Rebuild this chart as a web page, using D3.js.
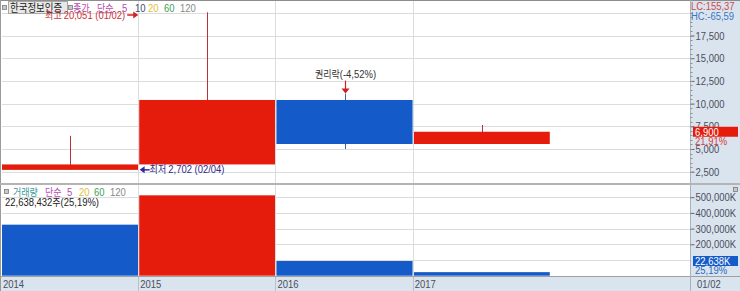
<!DOCTYPE html>
<html>
<head>
<meta charset="utf-8">
<script src="https://cdn.jsdelivr.net/npm/d3@7"></script>
<style>
  html, body { margin: 0; padding: 0; background: #fff; }
  svg { display: block; }
  text { font-family: 'Liberation Sans', 'Noto Sans CJK KR', sans-serif; }
  .ko { font-family: 'Noto Sans CJK KR', 'Liberation Sans', sans-serif; }
</style>
</head>
<body>
<svg id="chart" width="740" height="291"></svg>
<script>
// Yearly candles: 한국정보인증
const categories = ['2014', '2015', '2016', '2017'];
const openVals  = [2702, 3300, 10400, 5550];
const highVals  = [6450, 20051, 11100, 7650];
const lowVals   = [2702, 3300, 5000, 5550];
const closeVals = [3300, 10400, 5550, 6900];
// 거래량 in thousands of shares
const volumeVals = [325000, 512000, 93500, 22638];

const priceTicks = [2500, 5000, 7500, 10000, 12500, 15000, 17500, 20000];
const priceTickLabels = [2500, 5000, 7500, 10000, 12500, 15000, 17500];
const volumeTicks = [100000, 200000, 300000, 400000, 500000];
const volumeTickLabels = [200000, 300000, 400000, 500000];
const lastDateLabel = '01/02';

const RED = '#e51c0c', BLUE = '#145ac8';
const GRID = '#dcdcdc', PANEL = '#dae4ef';
const FS = 11, SX = 0.86;   // condensed look: 11px text squeezed horizontally

const W = 740, H = 291;
const plotL = 2, plotR = 690;
const priceTop = 1, priceBottom = 183;
const volTop = 185, volBottom = 276;

const svg = d3.select('#chart');

// helper for condensed text at (x, y); parts = [[string, colour, koreanFontSize], ...]
function label(parent, x, y, parts, anchor) {
  const t = parent.append('text')
    .attr('transform', `translate(${x},${y}) scale(${SX},1)`)
    .attr('font-size', FS)
    .attr('text-anchor', anchor || 'start');
  parts.forEach(([s, c, ko]) => {
    const sp = t.append('tspan').attr('fill', c).text(s);
    if (ko) sp.attr('class', 'ko').attr('font-size', ko);
  });
  return t;
}

// x: one band per year plus an empty slot on the right
const x = d3.scaleBand().domain([...categories, '_next']).range([plotL, 687]).paddingInner(0.008).paddingOuter(0);
const yP = d3.scaleLinear().domain([2500, 20000]).range([171.7, 12.8]);
const yV = d3.scaleLinear().domain([0, 500000]).range([275.7, 197.2]);

// backgrounds
svg.append('rect').attr('x', 0).attr('y', 0).attr('width', W).attr('height', H).attr('fill', '#fff');
svg.append('rect').attr('x', plotR).attr('y', 0).attr('width', W - plotR).attr('height', H).attr('fill', PANEL);
svg.append('rect').attr('x', 0).attr('y', volBottom).attr('width', W).attr('height', H - volBottom).attr('fill', PANEL);

// clip regions
const defs = svg.append('defs');
defs.append('clipPath').attr('id', 'clipP').append('rect').attr('x', plotL).attr('y', priceTop).attr('width', plotR - plotL).attr('height', priceBottom - priceTop);
defs.append('clipPath').attr('id', 'clipV').append('rect').attr('x', plotL).attr('y', volTop).attr('width', plotR - plotL).attr('height', volBottom - volTop);

// gridlines
const gP = svg.append('g').attr('clip-path', 'url(#clipP)');
gP.selectAll('line.h').data(priceTicks).join('line')
  .attr('x1', plotL).attr('x2', plotR).attr('y1', d => Math.round(yP(d)) + 0.5).attr('y2', d => Math.round(yP(d)) + 0.5)
  .attr('stroke', GRID);
const gV = svg.append('g').attr('clip-path', 'url(#clipV)');
gV.selectAll('line.h').data(volumeTicks).join('line')
  .attr('x1', plotL).attr('x2', plotR).attr('y1', d => Math.round(yV(d)) + 0.5).attr('y2', d => Math.round(yV(d)) + 0.5)
  .attr('stroke', GRID);
svg.append('g').selectAll('line').data(categories.slice(1)).join('line')
  .attr('x1', d => Math.round(x(d)) - 0.5).attr('x2', d => Math.round(x(d)) - 0.5)
  .attr('y1', priceTop).attr('y2', volBottom).attr('stroke', GRID);

// candles
const cw = x.bandwidth();
const candles = gP.selectAll('g.c').data(categories.map((c, i) => ({
  c, o: openVals[i], h: highVals[i], l: lowVals[i], cl: closeVals[i]
}))).join('g');
candles.append('line')
  .attr('x1', d => Math.round(x(d.c) + cw / 2) + 0.5).attr('x2', d => Math.round(x(d.c) + cw / 2) + 0.5)
  .attr('y1', d => yP(d.h)).attr('y2', d => yP(d.l))
  .attr('stroke', d => d.cl >= d.o ? '#b8323a' : '#3564b0');
candles.append('rect')
  .attr('x', d => x(d.c)).attr('width', cw)
  .attr('y', d => yP(Math.max(d.o, d.cl)))
  .attr('height', d => Math.max(1, Math.abs(yP(d.o) - yP(d.cl))))
  .attr('fill', d => d.cl >= d.o ? RED : BLUE);

// volume bars: red when volume rose from the previous year
gV.selectAll('rect.v').data(categories).join('rect')
  .attr('x', d => x(d)).attr('width', cw)
  .attr('y', (d, i) => yV(volumeVals[i]))
  .attr('height', (d, i) => yV(0) - yV(volumeVals[i]))
  .attr('fill', (d, i) => i > 0 && volumeVals[i] > volumeVals[i - 1] ? RED : BLUE);

// borders and panel separators
svg.append('line').attr('x1', 0).attr('x2', W).attr('y1', 0.5).attr('y2', 0.5).attr('stroke', '#8c8c8c');
svg.append('line').attr('x1', 0.5).attr('x2', 0.5).attr('y1', 0).attr('y2', H).attr('stroke', '#9a9a9a');
svg.append('rect').attr('x', 0).attr('y', priceBottom).attr('width', W).attr('height', 2).attr('fill', '#b4b4b4');
svg.append('line').attr('x1', 0).attr('x2', W).attr('y1', volBottom + 0.5).attr('y2', volBottom + 0.5).attr('stroke', '#a0a0a0');
svg.append('line').attr('x1', plotR + 0.5).attr('x2', plotR + 0.5).attr('y1', 0).attr('y2', H).attr('stroke', '#a8b2bd');

// right axes (labels squeezed to the condensed look)
const narrowAxis = g => {
  g.select('.domain').remove();
  g.selectAll('line').attr('stroke', '#60656e');
  g.selectAll('text').attr('font-size', FS).attr('fill', '#4a4f5a').each(function () {
    const t = d3.select(this);
    t.attr('x', +t.attr('x') / SX).attr('transform', `scale(${SX},1)`);
  });
};
svg.append('g').attr('transform', `translate(${plotR + 0.5},0)`)
  .call(d3.axisRight(yP).tickValues(priceTickLabels).tickSize(4).tickPadding(1).tickFormat(d3.format(',')))
  .call(narrowAxis);
// minor ticks
svg.append('g').selectAll('line').data(d3.range(2500, 20001, 500)).join('line')
  .attr('x1', plotR + 0.5).attr('x2', plotR + 2.5)
  .attr('y1', d => Math.round(yP(d)) + 0.5).attr('y2', d => Math.round(yP(d)) + 0.5)
  .attr('stroke', '#8a9099');
svg.append('g').attr('transform', `translate(${plotR + 0.5},0)`)
  .call(d3.axisRight(yV).tickValues(volumeTickLabels).tickSize(4).tickPadding(1).tickFormat(d => d3.format(',')(d) + 'K'))
  .call(narrowAxis);

// x labels
categories.forEach(c => label(svg, x(c) + 1, 288, [[c, '#4a4f5a']]));
svg.append('g').selectAll('line').data(categories.slice(1)).join('line')
  .attr('x1', d => Math.round(x(d)) - 0.5).attr('x2', d => Math.round(x(d)) - 0.5)
  .attr('y1', volBottom + 1).attr('y2', H).attr('stroke', '#b9c2cc');
label(svg, plotR + 7, 288, [[lastDateLabel, '#4a4f5a']]);

// last price / volume markers
const lastClose = closeVals[closeVals.length - 1];
const lastVol = volumeVals[volumeVals.length - 1];
const pY = yP(lastClose);
svg.append('rect').attr('x', plotR + 3).attr('y', pY - 5).attr('width', 45).attr('height', 10).attr('fill', RED);
label(svg, plotR + 5, pY + 4, [[d3.format(',')(lastClose), '#fff']]);
label(svg, plotR + 5, pY + 13, [['21,91%', '#d83a3a']]);
const vY = Math.min(yV(lastVol), volBottom - 15);
svg.append('rect').attr('x', plotR + 3).attr('y', vY - 5).attr('width', 45).attr('height', 10).attr('fill', BLUE);
label(svg, plotR + 5, vY + 4, [[d3.format(',')(Math.round(lastVol)) + 'K', '#fff']]);
label(svg, plotR + 5, vY + 13, [['25,19%', '#2a68c0']]);

// LC / HC
label(svg, plotR + 1, 10, [['LC:155,37', '#d04848']]);
label(svg, plotR + 1, 20, [['HC:-65,59', '#3a76c4']]);

// panel icons
const icon = (ix, iy) => svg.append('rect').attr('x', ix).attr('y', iy).attr('width', 4).attr('height', 4)
  .attr('fill', '#c8c8c8').attr('stroke', '#7a7a7a').attr('stroke-width', 0.8);
icon(2.5, 5.5);
icon(68.5, 5.5);
icon(4.5, 189.5);
icon(733.5, 187.5);

// price legend
const KO = 10.5;
svg.append('rect').attr('x', 8.5).attr('y', 1.5).attr('width', 59).attr('height', 12).attr('fill', '#e8e8e8').attr('stroke', '#a8a8a8');
label(svg, 10, 11.5, [['한국정보인증', '#222', 11]]);
label(svg, 73, 11.5, [['종가', '#b44ab4', KO]]);
label(svg, 97, 11.5, [['단순', '#b44ab4', KO]]);
label(svg, 122, 11.5, [['5', '#b44ab4']]);
label(svg, 135, 11.5, [['10', '#3c4a78']]);
label(svg, 148, 11.5, [['20', '#e0c040']]);
label(svg, 164, 11.5, [['60', '#3fa060']]);
label(svg, 180, 11.5, [['120', '#888']]);

// volume legend
label(svg, 13, 195.5, [['거래량', '#3a9a9a', KO]]);
label(svg, 45, 195.5, [['단순', '#b44ab4', KO]]);
label(svg, 67, 195.5, [['5', '#b44ab4']]);
label(svg, 79, 195.5, [['20', '#e0c040']]);
label(svg, 94, 195.5, [['60', '#3fa060']]);
label(svg, 110, 195.5, [['120', '#888']]);
label(svg, 5, 206, [['22,638,432', '#222'], ['주', '#222', KO], ['(25,19%)', '#222']]);

// annotations: high / low / rights issue
const iHigh = highVals.indexOf(d3.max(highVals));
const iLow = lowVals.indexOf(d3.min(lowVals));
const hiY = Math.max(yP(highVals[iHigh]), 15);
const hiTip = x(categories[iHigh]) - 1;
const ann = svg.append('g');
ann.append('line').attr('x1', hiTip - 11).attr('x2', hiTip - 4).attr('y1', hiY).attr('y2', hiY).attr('stroke', '#d02020').attr('stroke-width', 1.5);
ann.append('path').attr('d', `M${hiTip},${hiY} L${hiTip - 5},${hiY - 3.5} L${hiTip - 5},${hiY + 3.5} Z`).attr('fill', '#d02020');
label(ann, hiTip - 13, hiY + 4, [['최고 ', '#c8303a', KO], [d3.format(',')(highVals[iHigh]) + ' (01/02)', '#c8303a']], 'end');

const loY = yP(lowVals[iLow]);
const loTip = x(categories[iLow]) + cw + 1.5;
ann.append('path').attr('d', `M${loTip},${loY} L${loTip + 5},${loY - 3.5} L${loTip + 5},${loY + 3.5} Z`).attr('fill', '#2a2aa0');
ann.append('line').attr('x1', loTip + 4).attr('x2', loTip + 10).attr('y1', loY).attr('y2', loY).attr('stroke', '#2a2aa0').attr('stroke-width', 1.5);
label(ann, loTip + 10, loY + 3.5, [['최저 ', '#2a2a8a', KO], [d3.format(',')(lowVals[iLow]) + ' (02/04)', '#2a2a8a']]);

const rx = Math.round(x('2016') + cw / 2) + 0.5;
const rTip = yP(highVals[2]);
ann.append('line').attr('x1', rx).attr('x2', rx).attr('y1', rTip - 13).attr('y2', rTip - 4).attr('stroke', '#d02020').attr('stroke-width', 1.2);
ann.append('path').attr('d', `M${rx},${rTip} L${rx - 4},${rTip - 5} L${rx + 4},${rTip - 5} Z`).attr('fill', '#d02020');
label(ann, rx, rTip - 16, [['권리락', '#333', KO], ['(-4,52%)', '#333']], 'middle');
</script>
</body>
</html>
